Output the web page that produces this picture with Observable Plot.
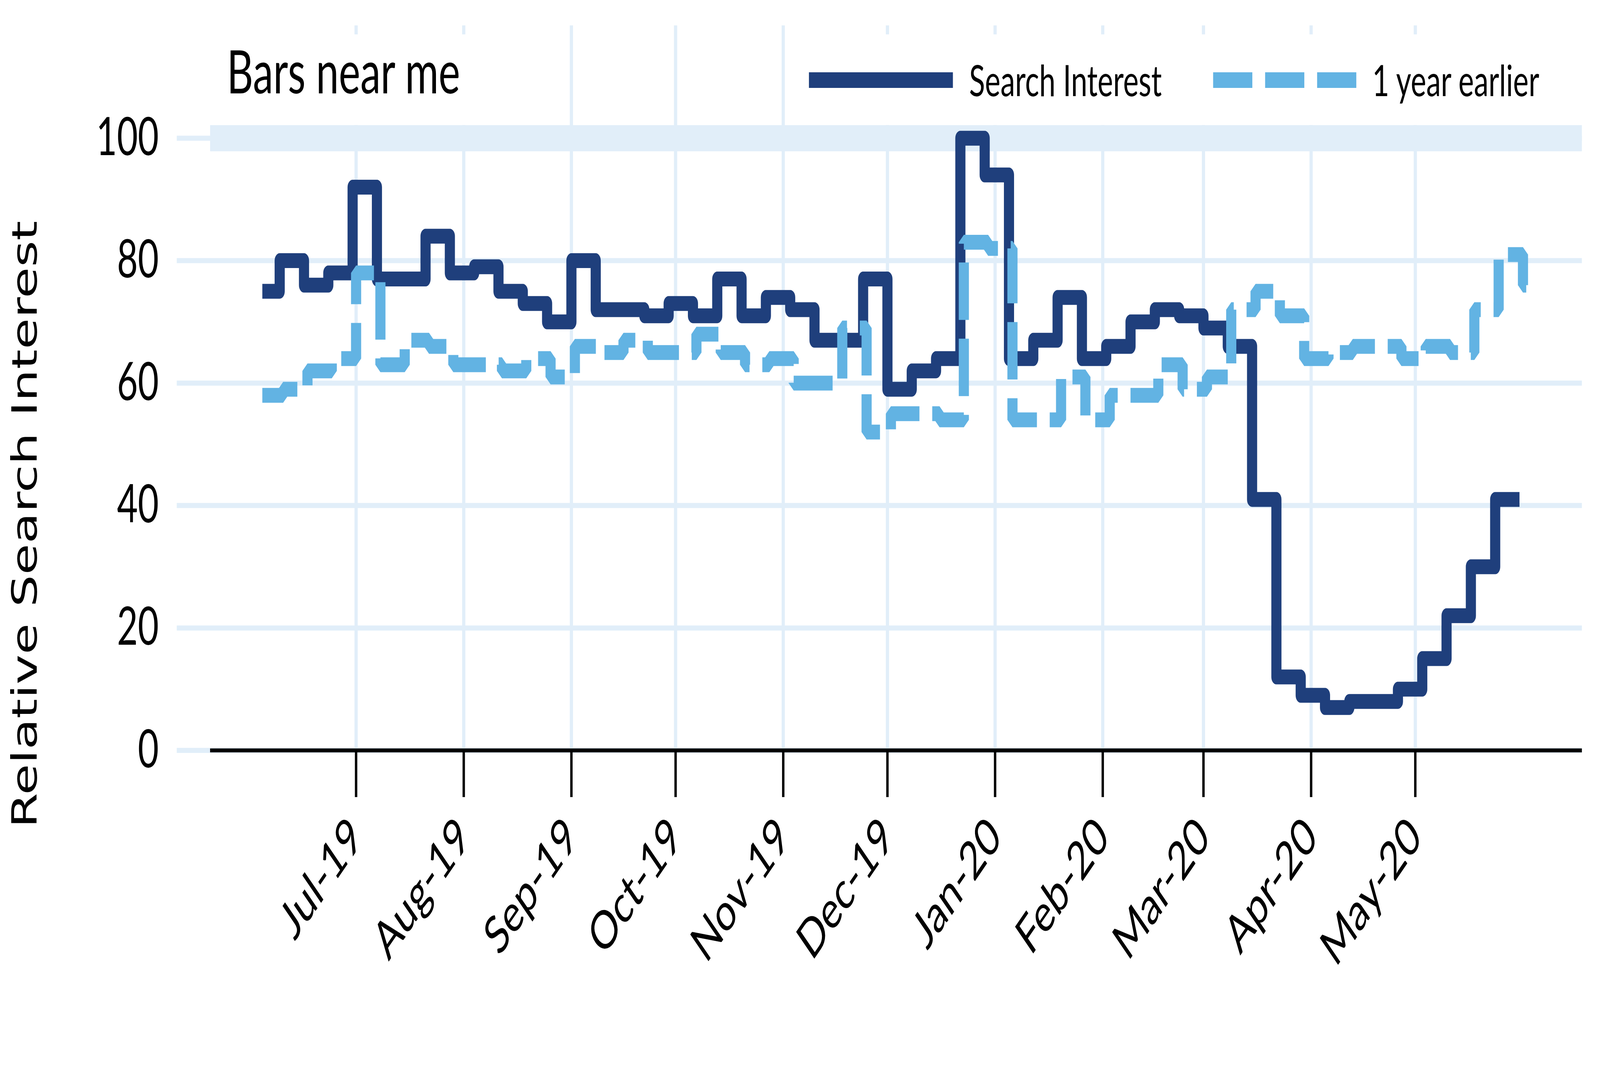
<!DOCTYPE html>
<html>
<head>
<meta charset="utf-8">
<script src="https://cdn.jsdelivr.net/npm/d3@7"></script>
<script src="https://cdn.jsdelivr.net/npm/@observablehq/plot@0.6"></script>
<style>
html, body { margin: 0; padding: 0; background: #fff; overflow: hidden; }
#wrap { position: relative; width: 6001px; height: 2741px; overflow: hidden; background: #fff; transform-origin: 0 0; }
#wrap svg.overlay { position: absolute; left: 0; top: 0; pointer-events: none; }
</style>
</head>
<body>
<div id="wrap"></div>
<script>
// ---- data ----
const chartTitle = "Bars near me";
const yAxisTitle = "Relative Search Interest";
const seriesNames = ["Search Interest", "1 year earlier"];

// weekly values, Search Interest (weeks starting Sunday 2019-06-02)
const searchInterest = [75, 80, 76, 78, 92, 77, 77, 84, 78, 79, 75, 73, 70, 80, 72, 72, 71, 73, 71, 77,
  71, 74, 72, 67, 67, 77, 59, 62, 64, 100, 94, 64, 67, 74, 64, 66, 70, 72, 71, 69,
  66, 41, 12, 9, 7, 8, 8, 10, 15, 22, 30, 41];
// weekly values, 1 year earlier (weeks shifted one year, starting Monday 2019-06-03)
const yearEarlier = [58, 59, 62, 64, 78, 63, 67, 66, 63, 63, 62, 64, 61, 66, 65, 67, 65, 65, 68, 65,
  63, 64, 60, 60, 69, 52, 55, 55, 54, 83, 82, 54, 54, 61, 54, 58, 58, 63, 59, 61,
  72, 75, 71, 64, 65, 66, 66, 64, 66, 65, 72, 81, 76];

const searchWeekStart = "2019-06-02";
const earlierWeekStart = "2019-06-03";
const firstDay = "2019-06-04";
const searchLastDay = "2020-05-31";
const earlierLastDay = "2020-06-03";

const xDomain = ["2019-05-20", "2020-06-18"];
const monthTicks = ["2019-07-01", "2019-08-01", "2019-09-01", "2019-10-01", "2019-11-01", "2019-12-01",
  "2020-01-01", "2020-02-01", "2020-03-01", "2020-04-01", "2020-05-01"];
const monthLabels = ["Jul-19", "Aug-19", "Sep-19", "Oct-19", "Nov-19", "Dec-19",
  "Jan-20", "Feb-20", "Mar-20", "Apr-20", "May-20"];
const yTicks = [0, 20, 40, 60, 80, 100];

// ---- styles ----
const W = 6001, H = 2741;
const navy = "#1f3f7c";
const sky = "#62b3e3";
const grid = "#e1eef9";
const dash = "147,48";

function weeklyRows(values, start, lastDay) {
  const s = new Date(start), f = new Date(firstDay);
  const rows = values.map((v, i) => ({
    date: new Date(Math.max(+d3.utcDay.offset(s, 7 * i), +f)),
    value: v
  }));
  rows.push({date: new Date(lastDay), value: values[values.length - 1]});
  return rows;
}

const searchRows = weeklyRows(searchInterest, searchWeekStart, searchLastDay);
const earlierRows = weeklyRows(yearEarlier, earlierWeekStart, earlierLastDay);
const tickDates = monthTicks.map(d => new Date(d));
const labelByTime = new Map(tickDates.map((d, i) => [+d, monthLabels[i]]));

const chart = Plot.plot({
  width: W,
  height: H,
  marginLeft: 788,
  marginRight: 68,
  marginTop: 65,
  marginBottom: 821,
  style: {background: "white", fontFamily: "Lato", color: "black", overflow: "visible", maxWidth: "none"},
  x: {type: "utc", domain: xDomain.map(d => new Date(d)), label: null},
  y: {domain: [0, 118.4], label: null},
  marks: [
    Plot.ruleX(tickDates, {stroke: grid, strokeWidth: 12}),
    Plot.ruleY(yTicks, {stroke: grid, strokeWidth: 13, insetLeft: -125}),
    Plot.ruleY([100], {stroke: grid, strokeWidth: 67}),
    Plot.axisY({ticks: yTicks, tickSize: 0, tickPadding: 193, fontSize: 135, label: null}),
    Plot.line(searchRows, {x: "date", y: "value", curve: "step-after", stroke: navy,
      strokeWidth: 38, strokeLinejoin: "round", strokeLinecap: "butt"}),
    Plot.line(earlierRows, {x: "date", y: "value", curve: "step-after", stroke: sky,
      strokeWidth: 38, strokeDasharray: dash, strokeLinejoin: "miter", strokeLinecap: "butt"}),
    Plot.ruleY([0], {stroke: "black", strokeWidth: 10}),
    Plot.axisX({ticks: tickDates, tickFormat: d => labelByTime.get(+d), tickRotate: -45,
      tickSize: 120, tickPadding: 78, lineAnchor: "middle", textAnchor: "end",
      stroke: "black", strokeWidth: 9, fontSize: 135, label: null})
  ]
});

const wrap = document.getElementById("wrap");
wrap.appendChild(chart);

const overlay = `
<svg class="overlay" xmlns="http://www.w3.org/2000/svg" width="${W}" height="${H}">
  <rect x="800" y="88" width="1000" height="232" fill="white"/>
  <text x="851" y="239" font-family="Lato" font-size="153" fill="black">${chartTitle}</text>
  <rect x="2990" y="88" width="2890" height="232" fill="white"/>
  <line x1="3034" x2="3574" y1="205" y2="205" stroke="${navy}" stroke-width="40"/>
  <text x="3635" y="246" font-family="Lato" font-size="110" fill="black">${seriesNames[0]}</text>
  <line x1="4550" x2="5087" y1="205" y2="205" stroke="${sky}" stroke-width="40" stroke-dasharray="${dash}"/>
  <text x="5147" y="246" font-family="Lato" font-size="110" fill="black">${seriesNames[1]}</text>
  <text transform="translate(138,1342) rotate(-90)" text-anchor="middle" font-family="DejaVu Sans" font-size="130" fill="black">${yAxisTitle}</text>
</svg>`;
wrap.insertAdjacentHTML("beforeend", overlay);

// The browser window may be narrower than the chart; fit the full chart into it.
function fit() {
  const sx = Math.min(1, window.innerWidth / W);
  const sy = Math.min(1, window.innerHeight / H);
  wrap.style.transform = (sx < 1 || sy < 1) ? `scale(${sx}, ${sy})` : "";
}
fit();
window.addEventListener("resize", fit);
</script>
</body>
</html>
